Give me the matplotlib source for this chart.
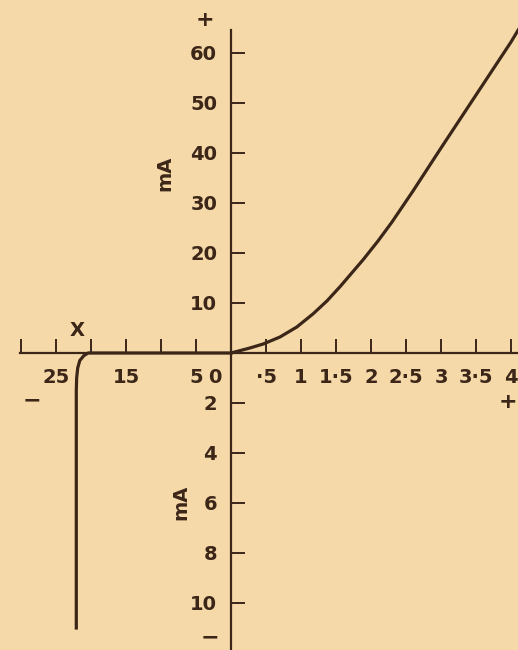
import numpy as np
import matplotlib
matplotlib.use("Agg")
import matplotlib.pyplot as plt

# forward characteristic: volts, mA (upper scale)
fwd_volts = [0, 0.27, 0.46, 0.7, 0.94, 1.17, 1.37, 1.56, 1.89, 2.1, 2.3, 2.6, 3.0, 3.5, 4.0, 4.12]
fwd_ma = [0, 1.0, 1.8, 3.2, 5.2, 7.8, 10.4, 13.3, 18.7, 22.4, 26.2, 32.4, 41.0, 51.6, 62.2, 65.0]

# reverse characteristic: volts, mA (both read as magnitudes)
rev_volts = [0, 5, 10, 15, 20.4, 21.0, 21.6, 21.9, 22.05, 22.1, 22.1]
rev_ma = [0, 0, 0, 0, 0, 0.1, 0.3, 0.6, 1.0, 1.5, 11.0]

# axis scales
fwd_tick_v = [0.5, 1, 1.5, 2, 2.5, 3, 3.5, 4]
fwd_tick_lbl = ["·5", "1", "1·5", "2", "2·5", "3", "3·5", "4"]
rev_tick_v = [30, 25, 20, 15, 10, 5]
rev_tick_lbl = ["", "25", "", "15", "", "5"]
up_tick_ma = [10, 20, 30, 40, 50, 60]
down_tick_ma = [2, 4, 6, 8, 10]

# the reverse quadrant is drawn at a different scale
REV_X = 10.0   # 10 V reverse = 1 V forward on paper
REV_Y = 5.0    # 1 mA reverse = 5 mA forward on paper

bg = "#f6d9a9"
ink = "#3b2618"
font = dict(family="DejaVu Sans", weight="bold", size=14, color=ink)
sign = dict(family="DejaVu Sans", weight="bold", size=16, color=ink)

fig = plt.figure(figsize=(5.18, 6.5), dpi=100)
fig.patch.set_facecolor(bg)
ax = fig.add_axes([0, 0, 1, 1])
ax.set_facecolor(bg)
ax.set_xlim(-3.3, 4.1)
ax.set_ylim(-59.4, 70.6)

# curve
ax.plot(fwd_volts, fwd_ma, color=ink, lw=2.3, solid_capstyle="round")
rx = -np.array(rev_volts) / REV_X
ry = -np.array(rev_ma) * REV_Y
ax.plot(rx, ry, color=ink, lw=2.3, solid_joinstyle="round")

# axes through the origin
for s in ["top", "right"]:
    ax.spines[s].set_visible(False)
ax.spines["left"].set_position(("data", 0))
ax.spines["bottom"].set_position(("data", 0))
ax.spines["left"].set_bounds(-59.4, 64.6)
ax.spines["bottom"].set_bounds(-3.01, 4.1)
for s in ["left", "bottom"]:
    ax.spines[s].set_color(ink)
    ax.spines[s].set_linewidth(1.6)

xt = fwd_tick_v + [-v / REV_X for v in rev_tick_v]
xl = fwd_tick_lbl + rev_tick_lbl
ax.set_xticks(xt)
ax.set_xticklabels(xl, fontdict=font)
yt = up_tick_ma + [-m * REV_Y for m in down_tick_ma]
yl = [str(m) for m in up_tick_ma] + [str(m) for m in down_tick_ma]
ax.set_yticks(yt)
ax.set_yticklabels(yl, fontdict=font)
ax.tick_params(axis="x", direction="in", length=10, width=1.4, color=ink, pad=11)
ax.tick_params(axis="y", direction="in", length=10, width=1.4, color=ink, pad=10)

# extra annotations
ax.annotate("0", xy=(0, 0), xytext=(-11.5, -11), textcoords="offset points",
            ha="center", va="top", **font)
ax.text(-0.37, 66.6, "+", ha="center", va="center", **sign)
ax.text(-0.3, -56.8, "−", ha="center", va="center", **sign)
ax.text(3.96, -9.8, "+", ha="center", va="center", **sign)
ax.text(-2.84, -9.4, "−", ha="center", va="center", **sign)
ax.text(-2.2, 4.6, "X", ha="center", va="center", **font)
ax.text(-0.94, 36, "mA", ha="center", va="center", rotation=90, **font)
ax.text(-0.71, -29.8, "mA", ha="center", va="center", rotation=90, **font)

fig.savefig("out.png", dpi=100, facecolor=bg)
